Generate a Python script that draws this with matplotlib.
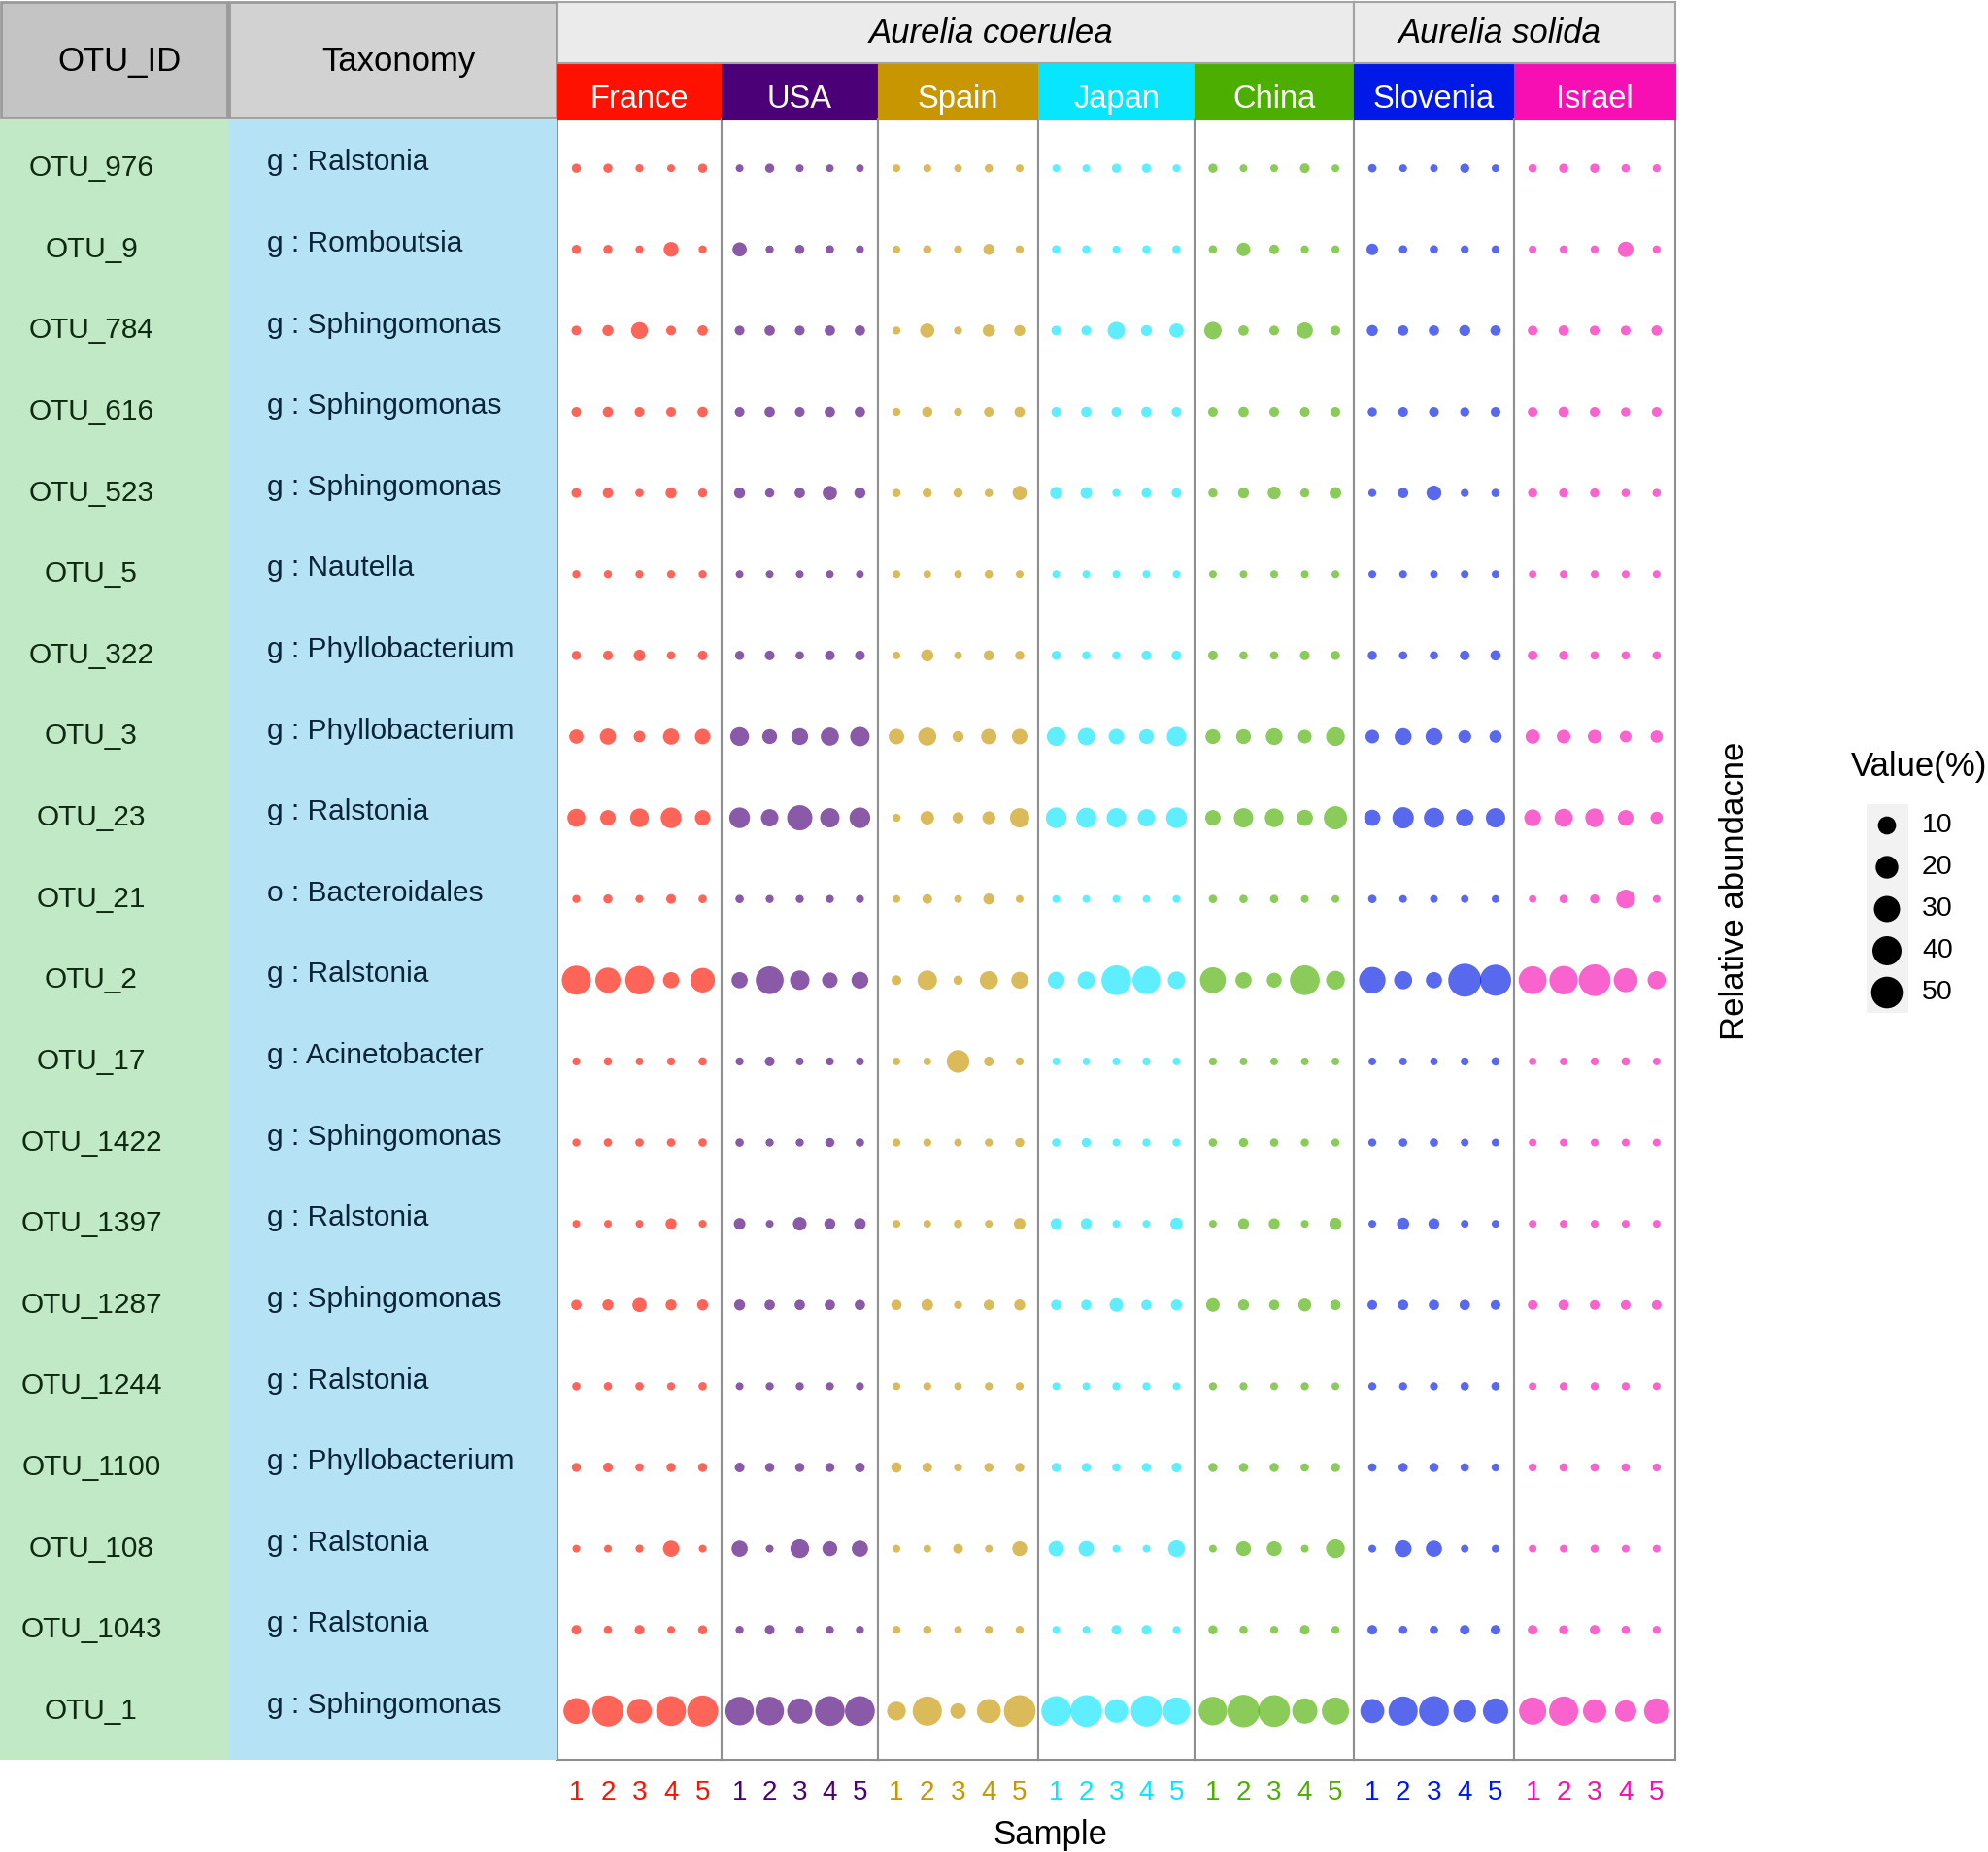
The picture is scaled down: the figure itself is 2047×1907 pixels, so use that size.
import matplotlib
matplotlib.use("Agg")
import matplotlib.pyplot as plt
from matplotlib.patches import Rectangle
import numpy as np

plt.rcParams['font.family'] = ['Liberation Sans', 'DejaVu Sans']

# ---- data ----
otu_ids = ["OTU_976", "OTU_9", "OTU_784", "OTU_616", "OTU_523", "OTU_5", "OTU_322",
           "OTU_3", "OTU_23", "OTU_21", "OTU_2", "OTU_17", "OTU_1422", "OTU_1397",
           "OTU_1287", "OTU_1244", "OTU_1100", "OTU_108", "OTU_1043", "OTU_1"]
taxonomy = ["g : Ralstonia", "g : Romboutsia", "g : Sphingomonas", "g : Sphingomonas",
            "g : Sphingomonas", "g : Nautella", "g : Phyllobacterium", "g : Phyllobacterium",
            "g : Ralstonia", "o : Bacteroidales", "g : Ralstonia", "g : Acinetobacter",
            "g : Sphingomonas", "g : Ralstonia", "g : Sphingomonas", "g : Ralstonia",
            "g : Phyllobacterium", "g : Ralstonia", "g : Ralstonia", "g : Sphingomonas"]
samples = ["1", "2", "3", "4", "5"]
countries = ["France", "USA", "Spain", "Japan", "China", "Slovenia", "Israel"]
species = ["Aurelia coerulea", "Aurelia solida"]
species_n = [5, 2]
country_colors = ["#FF1100", "#4B0078", "#C89600", "#08E6FF", "#4CAF00", "#0019E6", "#F70FB4"]

# relative abundance (%) per OTU (rows) and sample (columns)
france = [[0.3, 0.3, 0.05, 0.02, 0.3], [0.3, 0.3, 0.05, 4.9, 0.05], [0.5, 1.2, 7.7, 0.5, 0.8],
          [0.5, 0.8, 0.5, 0.5, 0.8], [0.5, 0.8, 0.1, 1.2, 0.3], [0.05, 0.05, 0.05, 0.05, 0.05],
          [0.3, 0.5, 1.6, 0.1, 0.5], [4.1, 6.7, 1.6, 6.7, 5.7], [9.9, 5.7, 11.1, 15.2, 5.7],
          [0.05, 0.3, 0.05, 0.5, 0.1], [40.2, 27.2, 37.8, 6.7, 25.2], [0.05, 0.1, 0.02, 0.05, 0.1],
          [0.05, 0.1, 0.1, 0.1, 0.1], [0.02, 0.02, 0.02, 1.2, 0.02], [0.8, 1.2, 4.1, 1.2, 1.2],
          [0.1, 0.1, 0.1, 0.05, 0.1], [0.3, 0.5, 0.1, 0.3, 0.3], [0.02, 0.02, 0.05, 6.7, 0.02],
          [0.5, 0.1, 0.5, 0.02, 0.3], [29.1, 47.6, 25.2, 42.6, 47.6]]
usa = [[0.02, 0.3, 0.02, 0.02, 0.02], [4.1, 0.05, 0.3, 0.1, 0.05], [0.5, 0.8, 0.5, 0.8, 0.8],
       [0.5, 0.8, 0.5, 0.8, 0.8], [1.2, 0.3, 0.8, 4.1, 1.2], [0.02, 0.02, 0.02, 0.02, 0.02],
       [0.3, 0.5, 0.1, 0.5, 0.5], [11.1, 4.9, 7.7, 9.9, 12.4], [15.2, 8.7, 27.2, 12.4, 15.2],
       [0.1, 0.05, 0.05, 0.05, 0.05], [6.7, 35.6, 12.4, 5.7, 7.7], [0.05, 0.5, 0.02, 0.05, 0.05],
       [0.1, 0.05, 0.05, 0.3, 0.1], [1.6, 0.02, 3.4, 1.2, 1.6], [1.2, 0.8, 0.8, 0.8, 0.8],
       [0.02, 0.05, 0.05, 0.05, 0.05], [0.5, 0.3, 0.3, 0.3, 0.5], [6.7, 0.02, 11.1, 4.9, 6.7],
       [0.05, 0.5, 0.05, 0.05, 0.05], [37.8, 37.8, 27.2, 42.6, 42.6]]
spain = [[0.02, 0.05, 0.02, 0.1, 0.02], [0.02, 0.1, 0.05, 1.2, 0.05], [0.05, 4.1, 0.05, 2.1, 1.2],
         [0.05, 0.8, 0.05, 0.5, 0.8], [0.1, 0.3, 0.3, 0.1, 4.1], [0.02, 0.02, 0.02, 0.1, 0.02],
         [0.02, 2.1, 0.02, 0.8, 0.3], [5.7, 9.9, 1.2, 5.7, 5.7], [0.05, 3.4, 1.2, 2.7, 12.4],
         [0.02, 0.5, 0.02, 1.2, 0.02], [0.5, 12.4, 0.3, 9.9, 7.7], [0.02, 0.02, 19.9, 0.5, 0.05],
         [0.05, 0.05, 0.02, 0.05, 0.3], [0.02, 0.02, 0.1, 0.02, 1.6], [0.8, 1.6, 0.05, 0.8, 1.2],
         [0.02, 0.05, 0.02, 0.05, 0.05], [0.8, 0.5, 0.05, 0.3, 0.3], [0.02, 0.02, 0.5, 0.02, 4.9],
         [0.05, 0.1, 0.02, 0.05, 0.05], [11.1, 40.2, 5.7, 23.4, 50.3]]
japan = [[0.02, 0.02, 0.3, 0.3, 0.02], [0.1, 0.1, 0.02, 0.1, 0.1], [0.5, 0.5, 8.7, 1.2, 4.1],
         [0.5, 0.8, 0.5, 0.8, 0.5], [2.1, 1.6, 0.05, 0.5, 0.5], [0.02, 0.02, 0.02, 0.02, 0.02],
         [0.3, 0.1, 0.1, 0.5, 0.5], [11.1, 8.7, 5.7, 4.9, 12.4], [15.2, 13.8, 12.4, 8.7, 15.2],
         [0.02, 0.02, 0.02, 0.01, 0.02], [7.7, 8.7, 42.6, 35.6, 8.7], [0.02, 0.02, 0.02, 0.05, 0.02],
         [0.1, 0.3, 0.02, 0.05, 0.05], [1.2, 1.2, 0.02, 0.02, 2.1], [0.8, 0.8, 3.4, 0.8, 1.2],
         [0.02, 0.02, 0.05, 0.05, 0.02], [0.3, 0.3, 0.1, 0.3, 0.5], [5.7, 5.7, 0.02, 0.02, 7.7],
         [0.02, 0.02, 0.5, 0.5, 0.02], [42.6, 50.3, 21.6, 47.6, 33.3]]
china = [[0.3, 0.02, 0.02, 0.5, 0.02], [0.1, 3.4, 0.5, 0.05, 0.05], [8.7, 0.8, 0.5, 6.7, 0.5],
         [0.5, 0.8, 0.5, 0.5, 0.5], [0.3, 1.2, 2.7, 0.3, 1.6], [0.02, 0.02, 0.02, 0.02, 0.02],
         [0.5, 0.1, 0.1, 0.5, 0.3], [4.9, 4.9, 7.7, 3.4, 11.1], [5.7, 12.4, 11.1, 6.7, 21.6],
         [0.1, 0.1, 0.1, 0.02, 0.02], [29.1, 6.7, 4.9, 42.6, 11.1], [0.05, 0.02, 0.02, 0.02, 0.02],
         [0.1, 0.3, 0.1, 0.05, 0.05], [0.02, 1.2, 1.2, 0.02, 2.1], [3.4, 1.2, 0.8, 2.7, 0.8],
         [0.05, 0.05, 0.02, 0.05, 0.02], [0.3, 0.3, 0.3, 0.1, 0.3], [0.02, 4.9, 4.9, 0.02, 11.1],
         [0.3, 0.1, 0.05, 0.5, 0.05], [37.8, 53.0, 50.3, 27.2, 33.3]]
slovenia = [[0.1, 0.02, 0.02, 0.3, 0.02], [1.6, 0.1, 0.1, 0.05, 0.05], [1.2, 0.8, 0.8, 1.2, 0.8],
            [0.3, 0.5, 0.5, 0.3, 0.5], [0.05, 0.8, 4.9, 0.05, 0.1], [0.02, 0.02, 0.02, 0.02, 0.02],
            [0.3, 0.1, 0.1, 0.5, 0.8], [3.4, 7.7, 7.7, 2.7, 2.1], [6.7, 16.7, 13.8, 8.7, 12.4],
            [0.1, 0.02, 0.02, 0.02, 0.02], [31.2, 9.9, 6.7, 55.7, 47.6], [0.02, 0.02, 0.02, 0.05, 0.1],
            [0.05, 0.1, 0.1, 0.02, 0.02], [0.02, 2.1, 1.2, 0.02, 0.02], [0.5, 0.8, 0.8, 0.8, 0.5],
            [0.05, 0.05, 0.05, 0.1, 0.1], [0.1, 0.3, 0.3, 0.1, 0.05], [0.02, 7.7, 6.7, 0.02, 0.02],
            [0.5, 0.1, 0.1, 0.5, 0.5], [23.4, 40.2, 42.6, 19.9, 27.2]]
israel = [[0.1, 0.3, 0.3, 0.1, 0.05], [0.02, 0.05, 0.05, 5.7, 0.05], [0.5, 0.8, 0.5, 0.5, 0.8],
          [0.5, 0.8, 0.5, 0.3, 0.5], [0.3, 0.3, 0.3, 0.1, 0.1], [0.01, 0.02, 0.02, 0.02, 0.02],
          [0.5, 0.3, 0.1, 0.1, 0.1], [4.1, 3.4, 3.4, 1.6, 2.1], [7.7, 9.9, 11.1, 5.7, 2.1],
          [0.01, 0.1, 0.3, 11.1, 0.02], [35.6, 37.8, 50.3, 23.4, 9.9], [0.01, 0.02, 0.05, 0.1, 0.02],
          [0.02, 0.02, 0.02, 0.02, 0.02], [0.02, 0.02, 0.02, 0.02, 0.02], [0.5, 0.8, 0.5, 0.5, 0.5],
          [0.02, 0.05, 0.05, 0.05, 0.02], [0.05, 0.1, 0.1, 0.1, 0.05], [0.02, 0.02, 0.05, 0.02, 0.02],
          [0.5, 0.3, 0.5, 0.1, 0.05], [33.3, 40.2, 21.6, 16.7, 27.2]]
abundance = [france, usa, spain, japan, china, slovenia, israel]
legend_breaks = [10, 20, 30, 40, 50]

W, H = 2047, 1907
DPI = 100


def fx(px):
    return px / W


def fy(py):
    return 1 - py / H


def dot_size(v):
    # diameter grows with sqrt of value (area scale), returned in pt^2
    d_px = 7.5 + 3.55 * np.sqrt(np.asarray(v, dtype=float))
    return (d_px * 72.0 / DPI) ** 2


fig = plt.figure(figsize=(W / DPI, H / DPI), dpi=DPI)

top, bottom = 123, 1812
left0 = 574
# panel edges in pixels (panels are slightly unequal in the original)
edges = [574, 743, 904, 1069, 1230, 1394, 1559, 1725]
nrow = len(otu_ids)
ylim = (nrow + 0.6, 0.4)
edge = "#8F8F8F"

# ---- dot panels ----
for i, (cname, col) in enumerate(zip(countries, country_colors)):
    x0, x1 = edges[i], edges[i + 1]
    ax = fig.add_axes([fx(x0), fy(bottom), (x1 - x0) / W, (bottom - top) / H])
    vals = np.array(abundance[i])
    xs = np.tile(np.arange(1, 6), nrow)
    ys = np.repeat(np.arange(1, nrow + 1), 5)
    ax.scatter(xs, ys, s=dot_size(vals.ravel()), color=col, alpha=0.65, linewidths=0)
    ax.set_xlim(0.4, 5.6)
    ax.set_ylim(*ylim)
    ax.set_xticks(range(1, 6))
    ax.set_xticklabels(samples, fontsize=20, color=col)
    ax.set_yticks([])
    ax.tick_params(axis='x', length=0, pad=15)
    for sp in ax.spines.values():
        sp.set_color(edge)
        sp.set_linewidth(1.5)

    # country strip
    sax = fig.add_axes([fx(x0), fy(top), (x1 - x0) / W, (top - 65) / H])
    sax.set_facecolor(col)
    sax.set_xticks([])
    sax.set_yticks([])
    for sp in sax.spines.values():
        sp.set_color(col)
    sax.text(0.5, 0.36, cname, color="white", fontsize=23.5, ha="center", va="center",
             transform=sax.transAxes)

# species strips (label centres)
species_x = [1021, 1544]
k = 0
for sname, n, cx in zip(species, species_n, species_x):
    x0, x1 = edges[k], edges[k + n]
    gax = fig.add_axes([fx(x0), fy(65), (x1 - x0) / W, (65 - 2) / H])
    gax.set_facecolor("#EBEBEB")
    gax.set_xlim(x0, x1)
    gax.set_ylim(65, 2)
    gax.set_xticks([])
    gax.set_yticks([])
    for sp in gax.spines.values():
        sp.set_color("#A3A3A3")
        sp.set_linewidth(1.5)
    gax.text(cx, 34, sname, fontsize=25, style="italic", ha="center", va="center")
    k += n

# ---- left table ----
tab = fig.add_axes([0, fy(bottom), fx(left0), (bottom - top) / H])
tab.set_xlim(0, left0)
tab.set_ylim(*ylim)
tab.axis("off")
tab.add_patch(Rectangle((0, ylim[1]), 235, nrow + 0.2, facecolor="#C1E9C6", edgecolor="none"))
tab.add_patch(Rectangle((235, ylim[1]), left0 - 235, nrow + 0.2, facecolor="#B5E3F5", edgecolor="none"))
for r in range(nrow):
    tab.text(94, r + 1, otu_ids[r], fontsize=21.5, color="#0E2A10", ha="center", va="center")
    tab.text(275, r + 0.93, taxonomy[r], fontsize=21.5, color="#0B2438", ha="left", va="center")

hdr = fig.add_axes([0, fy(top), fx(left0), top / H])
hdr.set_xlim(0, left0)
hdr.set_ylim(top, 0)
hdr.axis("off")
hdr.add_patch(Rectangle((1, 2), 233, top - 4, facecolor="#C4C4C4", edgecolor="#9A9A9A", linewidth=2))
hdr.add_patch(Rectangle((236, 2), left0 - 237, top - 4, facecolor="#D2D2D2", edgecolor="#9A9A9A", linewidth=2))
hdr.text(123, 63, "OTU_ID", fontsize=25, ha="center", va="center")
hdr.text(410, 63, "Taxonomy", fontsize=25, ha="center", va="center")

# ---- axis titles ----
fig.text(fx(1081), fy(1889), "Sample", fontsize=25, ha="center", va="center")
fig.text(fx(1787), fy(917), "Relative abundacne", fontsize=25, rotation=90,
         ha="center", va="center")

# ---- size legend ----
lg = fig.add_axes([fx(1880), fy(1080), (W - 1880) / W, (1080 - 740) / H])
lg.set_xlim(1880, W)
lg.set_ylim(1080, 740)
lg.axis("off")
lg.text(1906, 790, "Value(%)", fontsize=25, ha="left", va="center")
lg.add_patch(Rectangle((1922, 828), 43, 215, facecolor="#F2F2F2", edgecolor="none"))
key_y = [850, 893, 936, 979, 1022]
lg.scatter([1943] * len(legend_breaks), key_y, s=dot_size(legend_breaks), color="black", linewidths=0)
for yy, b in zip(key_y, legend_breaks):
    lg.text(1979, yy, str(b), fontsize=20.5, ha="left", va="center")

fig.savefig("out.png", dpi=DPI)
